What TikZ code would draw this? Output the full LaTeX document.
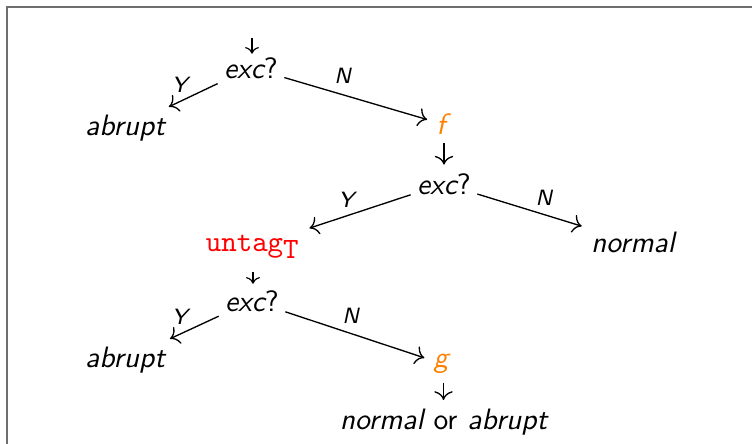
\documentclass[tikz,border=0pt]{standalone}
\usepackage{xcolor}
\usetikzlibrary{arrows.meta}
\definecolor{fnorange}{RGB}{255,128,0}
\definecolor{frame}{RGB}{110,110,110}
\begin{document}
\begin{tikzpicture}[x=0.339pt,y=-0.339pt,
  txt/.style={font=\sffamily\itshape, anchor=base, inner sep=2pt},
  fn/.style={txt, text=fnorange},
  lab/.style={font=\sffamily\itshape\fontsize{7.5}{9}\selectfont, inner sep=0pt},
  edge/.style={-{To[scale=1.15]}, line width=0.45pt, shorten >=1pt},
  down/.style={-{To[scale=1.15]}, line width=0.45pt},
  shortdown/.style={-{To[scale=0.9]}, line width=0.4pt}]
\useasboundingbox (0,0) rectangle (752,443);
\clip (0,0) rectangle (752,443);
\draw[frame, line width=0.6pt] (7,7) rectangle (780,470);

% nodes
\node[txt] (exc1) at (251,78) {exc\upshape ?};
\node[txt] (abr1) at (125,135) {abrupt};
\node[fn] (f) at (441,134) {f};
\node[txt] (exc2) at (444,194) {exc\upshape ?};
\node[txt] (norm1) at (633,252) {normal};
\node[txt, font=\ttfamily, text=red] (untag) at (253,251) {untag$_{\texttt{T}}$};
\node[txt] (exc3) at (252,311) {exc\upshape ?};
\node[txt] (abr2) at (125,367) {abrupt};
\node[fn] (g) at (441,367) {g};
\node[txt] (final) at (443.5,429) {normal \upshape or \itshape abrupt};

\coordinate (start) at (252,38);

% vertical arrows
\draw[shortdown, shorten >=-1pt] (start) -- (start |- exc1.north);
\draw[down, shorten <=1pt, shorten >=0.7pt] (f.south -| exc2.north) -- (exc2.north);
\draw[shortdown, shorten <=2.2pt] (untag.south) -- (untag.south |- exc3.north);
\draw[down, shorten <=1pt, shorten >=0.7pt] (g.south -| final.north) -- (final.north);

% decision arrows
\draw[edge] (exc1) -- node[lab, pos=0.74, above=3pt] {Y} (abr1);
\draw[edge] (exc1) -- node[lab, pos=0.40, above=3.4pt] {N} (f);
\draw[edge] (exc2) -- node[lab, pos=0.62, above=2.5pt] {Y} (untag);
\draw[edge] (exc2) -- node[lab, pos=0.62, above=2.8pt] {N} (norm1);
\draw[edge] (exc3) -- node[lab, pos=0.76, above=3pt] {Y} (abr2);
\draw[edge] (exc3) -- node[lab, pos=0.46, above=3.2pt] {N} (g);
\end{tikzpicture}
\end{document}
